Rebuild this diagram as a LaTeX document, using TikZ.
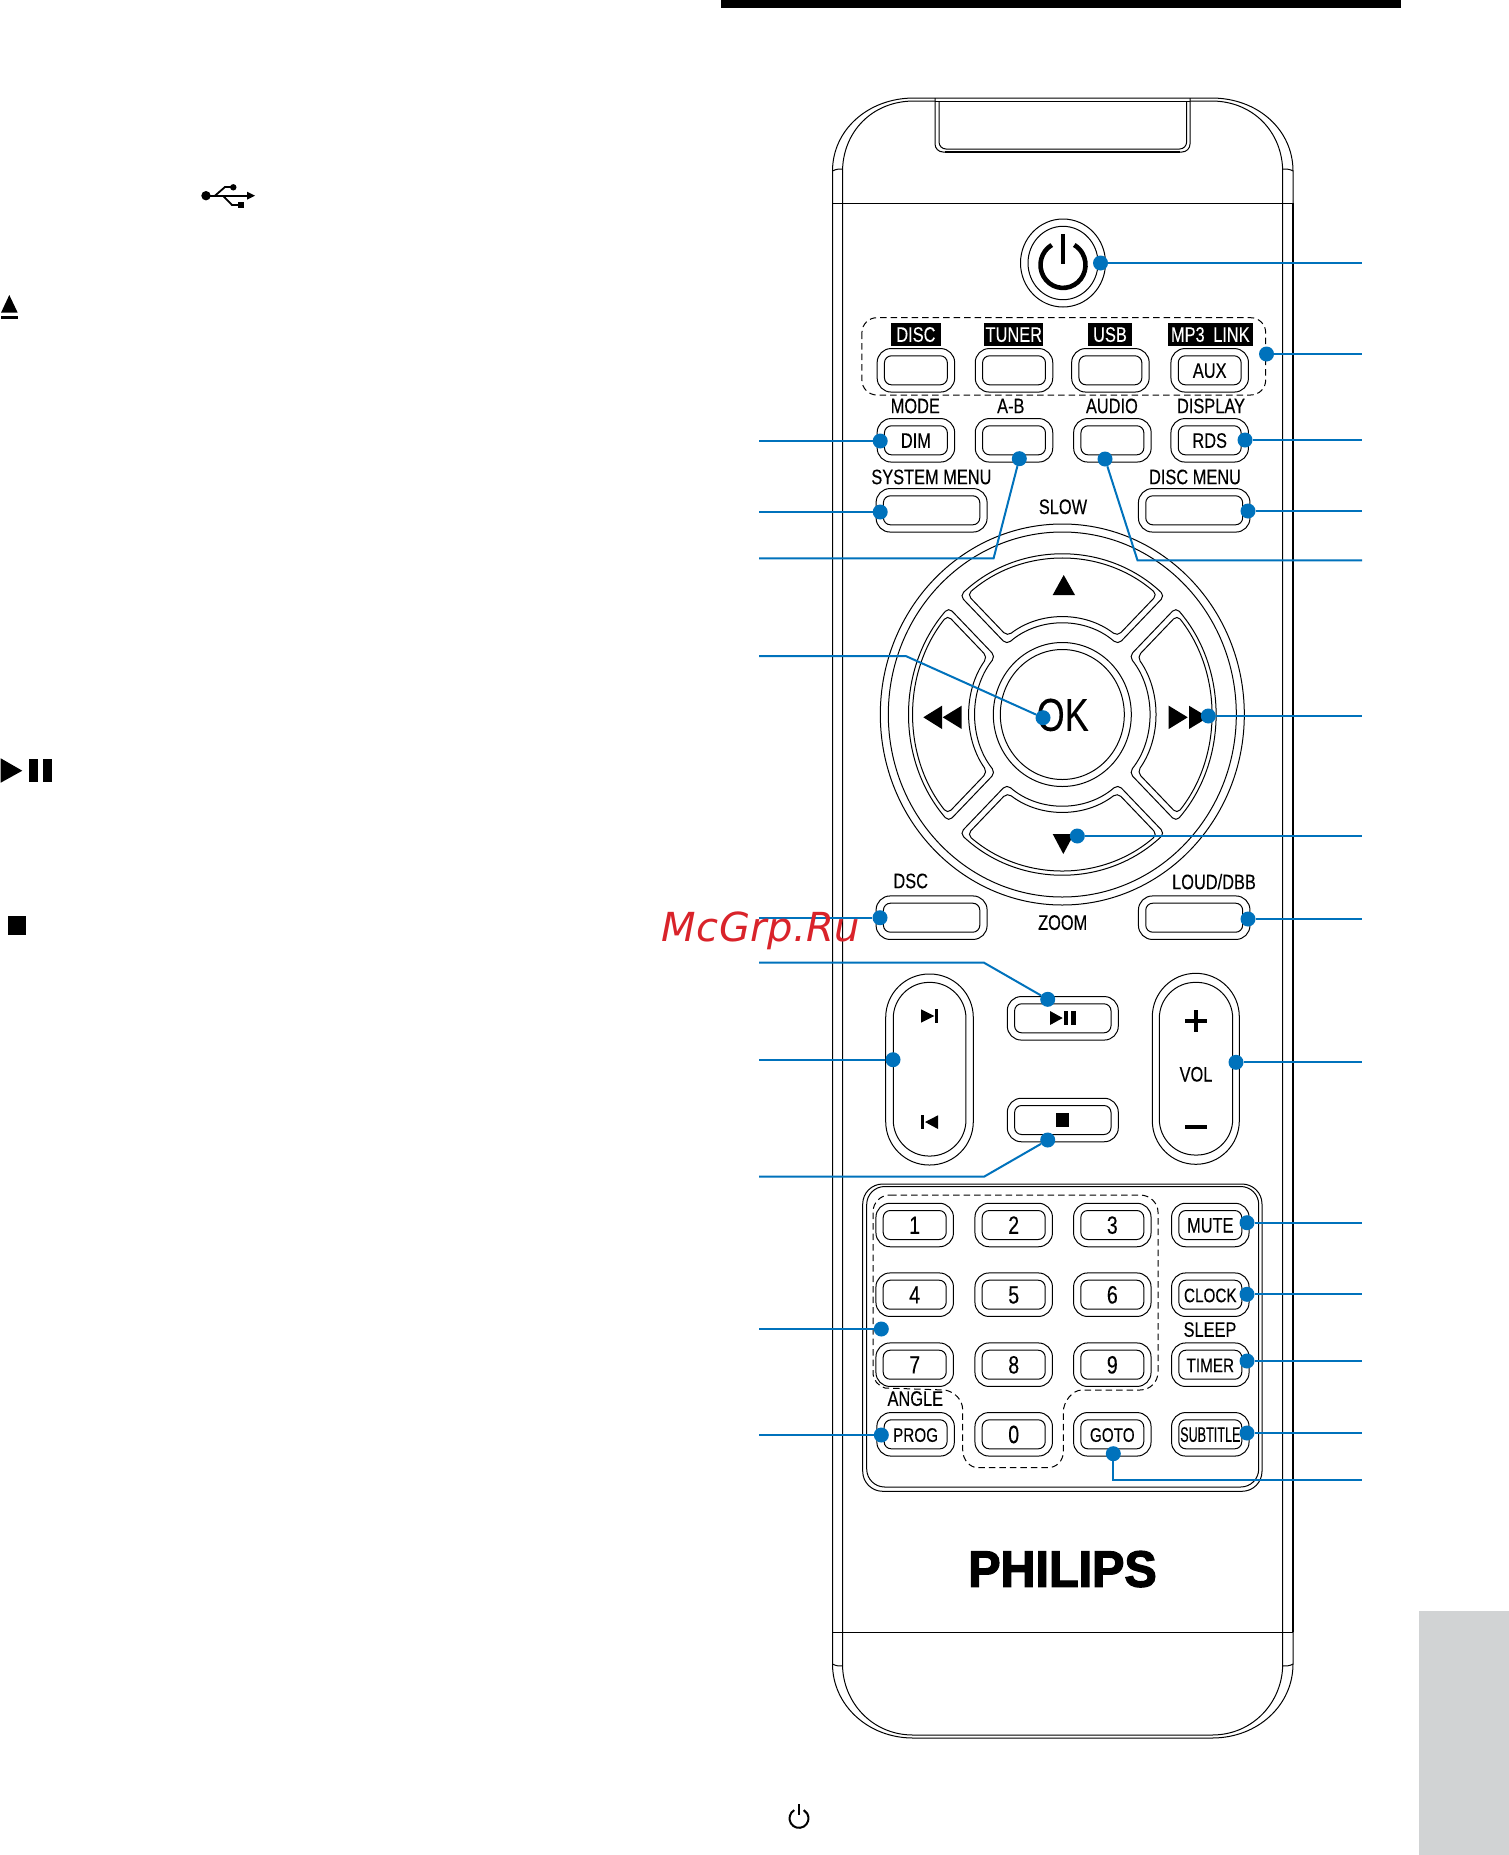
\documentclass[tikz,border=0pt]{standalone}
\usepackage{fontspec}
\setmainfont{Liberation Sans}
\newfontfamily\cond[FakeStretch=0.78,FakeBold=0.2]{Liberation Sans}
\newfontfamily\condn[FakeStretch=0.60,FakeBold=0.2]{Liberation Sans}
\newfontfamily\logofont[FakeStretch=0.95,FakeBold=2.5]{Liberation Sans Bold}
\newfontfamily\wmfont[LetterSpace=1]{DejaVu Sans Oblique}
\definecolor{leadblue}{RGB}{0,114,188}
\definecolor{sidegray}{RGB}{209,211,212}
\definecolor{wmred}{RGB}{217,35,42}
\newcommand{\tinyb}{\fontsize{19.6}{20}\selectfont}
\tikzset{
  ln/.style={draw=black,line width=1pt},
  btnout/.style={ln,rectangle,rounded corners=14pt,inner sep=0pt,minimum width=#1},
  btnin/.style={ln,rectangle,rounded corners=7pt,inner sep=0pt,minimum width=#1,font=\cond\fontsize{21}{21}\selectfont,text height=15pt,text depth=0pt},
  lab/.style={inner sep=0pt,font=\cond\fontsize{21}{21}\selectfont,text height=15pt,text depth=0pt},
  blab/.style={fill=black,text=white,inner sep=0pt,font=\cond\fontsize{21}{21}\selectfont,text height=15pt,text depth=0pt,minimum height=23pt},
  dashline/.style={draw=black,line width=1pt,dash pattern=on 6.5pt off 4pt},
  lead/.style={draw=leadblue,line width=2pt,line join=miter},
  dotn/.style={circle,fill=leadblue,inner sep=0pt,minimum size=15pt},
  glyph/.style={fill=black,draw=none},
  dig/.style={font=\cond\fontsize{25}{25}\selectfont,text height=17.5pt}
}
% name, x, y, outer width, label
\newcommand{\rbtn}[5]{%
  \node[btnout=#4pt,minimum height=43.5pt] (#1) at (#2,#3) {};
  \pgfmathsetlengthmacro{\iw}{#4pt-14.6pt}
  \node[btnin=\iw,minimum height=29pt] (#1i) at (#2,#3) {#5};
}
\newcommand{\rdig}[4]{%
  \node[btnout=77.5pt,minimum height=43.5pt] (#1) at (#2,#3) {};
  \node[btnin=63pt,minimum height=29pt,dig] (#1i) at (#2,#3) {#4};
}
\newcommand{\navpad}[1]{%
  \begin{scope}[shift={(1062.3,714.5)},yscale=1.045,rotate=#1]
    \draw[ln,rounded corners=5pt]
      ({45+asin(8/153)}:153pt) arc[start angle={45+asin(8/153)},end angle={135-asin(8/153)},radius=153pt]
      -- ({135-asin(8/87)}:87pt) arc[start angle={135-asin(8/87)},end angle={45+asin(8/87)},radius=87pt] -- cycle;
    \draw[ln,rounded corners=5pt]
      ({45+asin(14/149)}:149pt) arc[start angle={45+asin(14/149)},end angle={135-asin(14/149)},radius=149pt]
      -- ({135-asin(14/93)}:93pt) arc[start angle={135-asin(14/93)},end angle={45+asin(14/93)},radius=93pt] -- cycle;
  \end{scope}
}
\begin{document}
\begin{tikzpicture}[x=1pt,y=-1pt]
\useasboundingbox (0,0) rectangle (1509,1855);
\fill[white] (0,0) rectangle (1509,1855);
% page furniture
\fill[black] (721,0) rectangle (1401,8);
\fill[sidegray] (1419,1611) rectangle (1509,1855);

% left margin symbols
\fill[glyph] (206,195.7) circle[radius=4.7pt];
\draw[line width=1.8pt] (206,195.7) -- (248,195.7);
\fill[glyph] (255,195.7) -- (247,191.7) -- (247,199.7) -- cycle;
\draw[line width=1.8pt] (215,195.7) -- (225,187) -- (233,187);
\fill[glyph] (233.3,187.3) circle[radius=3.2pt];
\draw[line width=1.8pt] (223,195.7) -- (232,205) -- (238,205);
\fill[glyph] (237.5,201.7) rectangle (244.3,208.3);
\fill[glyph] (9.3,295) -- (1,312.7) -- (17.7,312.7) -- cycle;
\fill[glyph] (1,315.7) rectangle (18,318.7);
\fill[glyph] (0.7,758.3) -- (22.3,770.7) -- (0.7,782.7) -- cycle;
\fill[glyph] (29,759) rectangle (37.7,782.3);
\fill[glyph] (43.3,759) rectangle (52,782.3);
\fill[glyph] (8,916) rectangle (26,935);
% bottom standby icon
\draw[line width=2pt] (799,1804) -- (799,1815);
\draw[line width=2pt] (794.25,1810.1) arc[start angle=120,end angle=420,radius=9.5pt];

% remote body
\draw[ln] (832.5,171) .. controls (832.5,130) and (868,98) .. (914,98) -- (1211.5,98)
  .. controls (1258,98) and (1293,130) .. (1293,171) -- (1293,1664)
  .. controls (1293,1705) and (1258,1738) .. (1212,1738) -- (913,1738)
  .. controls (868,1738) and (832.5,1705) .. (832.5,1664) -- cycle;
\draw[ln] (842.5,172) .. controls (842.5,132) and (872,101) .. (914,101) -- (935,101);
\draw[ln] (1190,101) -- (1211.5,101) .. controls (1253,101) and (1282.7,132) .. (1282.7,172) -- (1282.7,1664)
  .. controls (1282.7,1702) and (1253,1735) .. (1212,1735) -- (913,1735)
  .. controls (872,1735) and (842.5,1702) .. (842.5,1664) -- (842.5,172);
\draw[ln] (832.5,171) .. controls (836,169) and (839,169) .. (842.5,169);
\draw[ln] (1282.7,169) .. controls (1286,169) and (1290,169) .. (1293,171);
\draw[ln] (832.5,1664) .. controls (836,1666) and (839,1666) .. (842.5,1666);
\draw[ln] (1282.7,1666) .. controls (1286,1666) and (1290,1666) .. (1293,1664);
\draw[ln] (832.5,203) -- (1293,203);
\draw[ln] (832.5,1632) -- (1293,1632);
\draw[line width=2.2pt] (1293,203) -- (1293,1632);
% clip at the top
\draw[ln,rounded corners=8pt] (935,98) -- (935,152) -- (1190,152) -- (1190,98);
\draw[ln,rounded corners=7pt] (939,101) -- (939,149) -- (1186.6,149) -- (1186.6,101);
\draw[line width=1.8pt] (945,152) -- (1180,152);
\draw[ln] (935,101) -- (1190,101);

% power key
\draw[ln] (1063,263) ellipse[x radius=42.5pt,y radius=44pt];
\draw[ln] (1063,263) ellipse[x radius=35pt,y radius=36.7pt];
\draw[line width=4.6pt] (1063,234) -- (1063,264);
\draw[line width=4.6pt] (1051.75,245) arc[start angle=120,end angle=420,x radius=22.5pt,y radius=23pt];

% source group
\draw[dashline,rounded corners=15pt] (861.9,317.7) rectangle (1265.7,395);
\node[blab,minimum width=50.8pt] (tDisc) at (915.9,334.3) {DISC};
\node[blab,minimum width=58.8pt] (tTuner) at (1013.8,334.3) {TUNER};
\node[blab,minimum width=44pt] (tUsb) at (1110,334.3) {USB};
\node[blab,minimum width=84.7pt] (tMp3) at (1210.3,334.3) {MP3\hspace{4pt} LINK};
\rbtn{bDisc}{915.9}{370.3}{77.5}{}
\rbtn{bTuner}{1014}{370.3}{77.5}{}
\rbtn{bUsb}{1110.4}{370.3}{77.5}{}
\rbtn{bAux}{1209.7}{370.3}{77.5}{AUX}
% mode row
\node[lab] (tMode) at (915.3,405.7) {MODE};
\node[lab] (tAB) at (1010.8,405.7) {A-B};
\node[lab] (tAudio) at (1111.9,405.7) {AUDIO};
\node[lab] (tDisplay) at (1211,405.7) {DISPLAY};
\rbtn{bDim}{915.9}{440.3}{77.5}{DIM}
\rbtn{bAB}{1014}{440.3}{77.5}{}
\rbtn{bAudio}{1112.4}{440.3}{77.5}{}
\rbtn{bRds}{1209.7}{440.3}{77.5}{RDS}
% menu row
\node[lab] (tSys) at (931.4,476.7) {SYSTEM MENU};
\node[lab] (tDiscM) at (1195,476.7) {DISC MENU};
\rbtn{bSys}{931.6}{510.3}{111}{}
\rbtn{bDiscM}{1194.2}{510.3}{111.5}{}
\node[lab] (tSlow) at (1063,506.5) {SLOW};

% navigation ring
\draw[ln] (1062.3,714.5) ellipse[x radius=182pt,y radius=190.5pt];
\draw[ln] (1062.3,714.5) ellipse[x radius=174pt,y radius=182.5pt];
\draw[ln] (1062.3,714.5) ellipse[x radius=69pt,y radius=72pt];
\draw[ln] (1062.3,714.5) ellipse[x radius=62pt,y radius=65pt];
\navpad{0}\navpad{90}\navpad{180}\navpad{270}
\node[inner sep=0pt,font=\cond\fontsize{46}{46}\selectfont,text height=33pt,text depth=0pt] (tOk) at (1062.7,714.3) {OK};
\fill[glyph] (1063.7,575) -- (1052.7,595) -- (1075,595) -- cycle;
\fill[glyph] (1063.3,854) -- (1052.7,834) -- (1074,834) -- cycle;
\fill[glyph] (923.3,717.3) -- (942,705.7) -- (942,729) -- cycle;
\fill[glyph] (942.7,717.3) -- (961.7,705.7) -- (961.7,729) -- cycle;
\fill[glyph] (1187.7,717.3) -- (1168.7,705.7) -- (1168.7,729) -- cycle;
\fill[glyph] (1208.3,717.3) -- (1189,705.7) -- (1189,729) -- cycle;

% lower keys
\node[lab] (tDsc) at (910.7,880.7) {DSC};
\node[lab] (tLoud) at (1214,881.7) {LOUD/DBB};
\node[lab] (tZoom) at (1062.7,922.3) {ZOOM};
\rbtn{bDsc}{931.6}{917.7}{111}{}
\rbtn{bLoud}{1194.2}{917.7}{111.5}{}
\rbtn{bPlay}{1062.8}{1018.3}{111}{}
\rbtn{bStop}{1062.8}{1120}{111}{}
\fill[glyph] (1050,1011) -- (1062.7,1018) -- (1050,1025) -- cycle;
\fill[glyph] (1064,1011.3) rectangle (1068.3,1024.7);
\fill[glyph] (1071,1011.3) rectangle (1075.7,1024.7);
\fill[glyph] (1056,1113.3) rectangle (1069,1126.7);
% rockers
\node[ln,rectangle,rounded corners=43.5pt,inner sep=0pt,minimum width=87.6pt,minimum height=191pt] (rockL) at (929.5,1069.5) {};
\node[ln,rectangle,rounded corners=36pt,inner sep=0pt,minimum width=72.7pt,minimum height=173.7pt] (rockLi) at (929.6,1069.2) {};
\node[ln,rectangle,rounded corners=43.5pt,inner sep=0pt,minimum width=87pt,minimum height=191pt] (rockR) at (1195.8,1068.8) {};
\node[ln,rectangle,rounded corners=36pt,inner sep=0pt,minimum width=73.4pt,minimum height=172.7pt] (rockRi) at (1196,1068.7) {};
\fill[glyph] (921,1009.3) -- (934.3,1016) -- (921,1022.7) -- cycle;
\fill[glyph] (935,1009.3) rectangle (938.3,1022.7);
\fill[glyph] (921,1115.3) rectangle (924,1129);
\fill[glyph] (925,1122) -- (938,1115.3) -- (938,1129) -- cycle;
\node[lab] (tVol) at (1196,1074) {VOL};
\fill[glyph] (1184.7,1018.9) rectangle (1206.7,1022.5);
\fill[glyph] (1193.9,1009.7) rectangle (1197.5,1031.7);
\fill[glyph] (1184.7,1125) rectangle (1206.7,1129);

% keypad panel
\draw[ln,rounded corners=20pt] (862.7,1184) rectangle (1262,1491.3);
\draw[ln,rounded corners=18pt] (866.7,1186.5) rectangle (1258.7,1487);
\draw[dashline] (890,1195) -- (1140,1195) .. controls (1150,1195) and (1158,1203) .. (1158,1212)
  -- (1158,1372) .. controls (1158,1382) and (1150,1390) .. (1140,1390)
  -- (1082,1390) .. controls (1072,1390) and (1063.3,1402) .. (1063.3,1412)
  -- (1063.3,1452) .. controls (1063.3,1461) and (1056,1467.7) .. (1048,1467.7)
  -- (978,1467.7) .. controls (970,1467.7) and (962.7,1460) .. (962.7,1450)
  -- (962.7,1410) .. controls (962.7,1400) and (955,1392) .. (945,1390)
  -- (885,1388) .. controls (878,1386) and (873,1380) .. (873,1372)
  -- (873,1212) .. controls (873,1203) and (880,1195) .. (890,1195) -- cycle;
\rdig{n1}{914.7}{1225}{1}
\rdig{n2}{1013.7}{1225}{2}
\rdig{n3}{1112.3}{1225}{3}
\rbtn{bMute}{1210.3}{1225}{77.5}{MUTE}
\rdig{n4}{914.7}{1294.7}{4}
\rdig{n5}{1013.7}{1294.7}{5}
\rdig{n6}{1112.3}{1294.7}{6}
\rbtn{bClock}{1210.3}{1294.7}{77.5}{{\tinyb CLOCK}}
\rdig{n7}{914.7}{1364.7}{7}
\rdig{n8}{1013.7}{1364.7}{8}
\rdig{n9}{1112.3}{1364.7}{9}
\rbtn{bTimer}{1210.3}{1364.7}{77.5}{{\tinyb TIMER}}
\rbtn{bProg}{915.6}{1434.3}{77.5}{{\tinyb PROG}}
\rdig{n0}{1013.7}{1434.3}{0}
\rbtn{bGoto}{1112.3}{1434.3}{77.5}{{\tinyb GOTO}}
\rbtn{bSub}{1210.3}{1434.3}{77.5}{{\condn SUBTITLE}}
\node[lab] (tSleep) at (1210,1329.3) {SLEEP};
\node[lab] (tAngle) at (915.3,1398.3) {ANGLE};
\node[inner sep=0pt,font=\logofont\fontsize{51}{51}\selectfont,text height=36.7pt,text depth=0pt] (tPhilips) at (1062.5,1568.3) {PHILIPS};

% leads: right side
\foreach \nm/\x/\y in {pw/1100.5/263,grp/1266.5/354,rds/1245/440,dm/1248/511,rt/1208.3/716,dn/1077.3/836,loud/1248/919,vol/1236/1062.3,mute/1247/1222.7,clk/1247/1294.3,tim/1247/1361,sub/1247/1433}{
  \node[dotn] (d\nm) at (\x,\y) {};
  \coordinate (e\nm) at (1362,\y);
  \draw[lead] (d\nm) -- (e\nm);
}
\node[dotn] (dau) at (1105,459) {};
\coordinate (bau) at (1137.5,560.3);
\coordinate (eau) at (1362,560.3);
\draw[lead] (dau) -- (bau) -- (eau);
\node[dotn] (dgo) at (1113.3,1453.7) {};
\coordinate (bgo) at (1113.3,1480);
\coordinate (ego) at (1362,1480);
\draw[lead] (dgo) -- (bgo) -- (ego);
% leads: left side
\foreach \nm/\x/\y in {dim/880.2/441,sys/880.2/512,dsc/880/917.7,rk/893/1059.7,num/881.3/1329,prog/881.3/1435}{
  \node[dotn] (d\nm) at (\x,\y) {};
  \coordinate (e\nm) at (759,\y);
  \draw[lead] (e\nm) -- (d\nm);
}
\foreach \nm/\x/\y/\bx/\by in {ab/1019.3/458.7/993.6/558.3,ok/1043/717.7/905.7/656,ply/1047.7/999.3/984/962.7,stp/1047.7/1140/984/1176.7}{
  \node[dotn] (d\nm) at (\x,\y) {};
  \coordinate (b\nm) at (\bx,\by);
  \coordinate (e\nm) at (759,\by);
  \draw[lead] (e\nm) -- (b\nm) -- (d\nm);
}
% watermark
\node[anchor=base west,inner sep=0pt,text=wmred,font=\wmfont\fontsize{40}{40}\selectfont] (wm) at (661.5,941.7) {McGrp.Ru};
\end{tikzpicture}
\end{document}
